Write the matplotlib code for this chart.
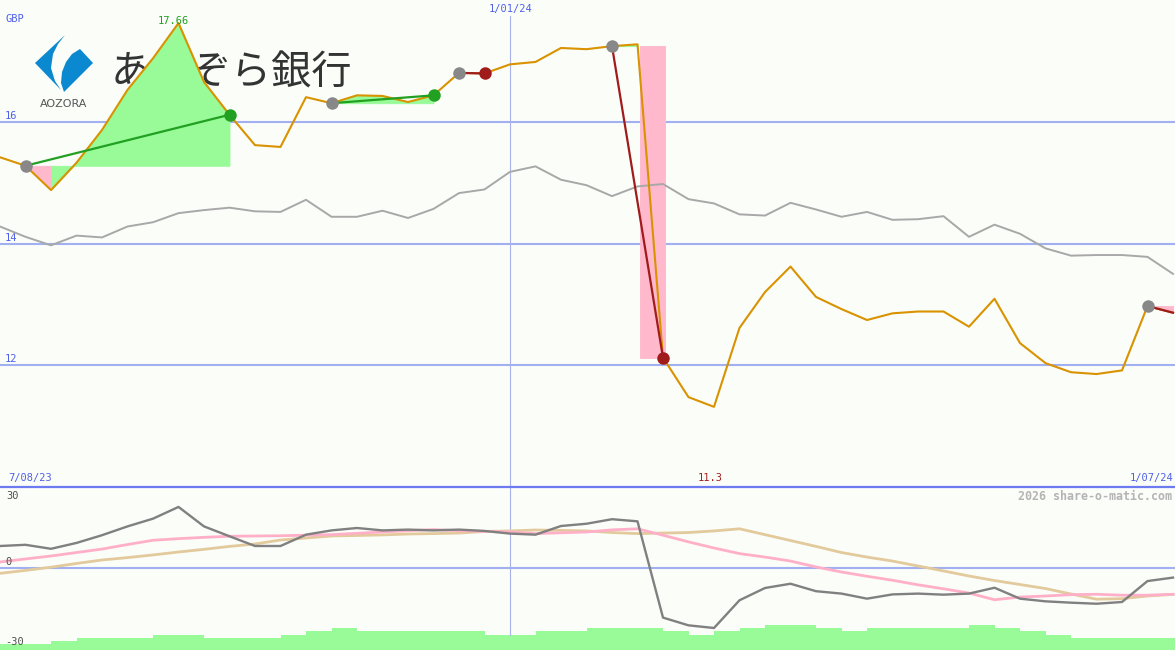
import numpy as np
import matplotlib
matplotlib.use('Agg')
import matplotlib.pyplot as plt
import matplotlib.transforms as mtransforms
from matplotlib.patches import Polygon
from matplotlib.lines import Line2D

# weekly closing price, GBP (orange)
price = [15.42, 15.28, 14.88, 15.33, 15.87, 16.53, 17.05, 17.63, 16.66, 16.12,
         15.62, 15.59, 16.41, 16.31, 16.44, 16.43, 16.33, 16.44, 16.81, 16.80,
         16.95, 16.99, 17.22, 17.20, 17.25, 17.28, 12.12, 11.47, 11.31, 12.61,
         13.20, 13.62, 13.12, 12.92, 12.74, 12.85, 12.88, 12.88, 12.63, 13.09,
         12.36, 12.03, 11.88, 11.85, 11.91, 12.97, 12.86]
# comparison line (grey)
compare = [14.28, 14.11, 13.97, 14.13, 14.10, 14.28, 14.35, 14.50, 14.55, 14.59,
           14.53, 14.52, 14.72, 14.44, 14.44, 14.54, 14.42, 14.57, 14.83, 14.89,
           15.18, 15.27, 15.05, 14.96, 14.78, 14.94, 14.98, 14.73, 14.66, 14.48,
           14.46, 14.67, 14.56, 14.44, 14.52, 14.39, 14.40, 14.45, 14.11, 14.31,
           14.16, 13.92, 13.80, 13.81, 13.81, 13.78, 13.50]
# lower panel oscillators
momentum = [8.25, 8.7, 7.2, 9.4, 12.3, 15.6, 18.5, 22.9, 15.6, 11.9,
            8.25, 8.25, 12.5, 14.1, 15.0, 14.1, 14.4, 14.1, 14.4, 13.9,
            12.9, 12.5, 15.75, 16.6, 18.3, 17.5, -18.6, -21.5, -22.5, -12.1,
            -7.5, -5.9, -8.7, -9.6, -11.5, -9.9, -9.6, -10.0, -9.6, -7.4,
            -11.5, -12.5, -13.0, -13.4, -12.75, -4.9, -3.6]
avg_fast = [2.25, 3.4, 4.5, 5.8, 7.1, 8.8, 10.4, 11.0, 11.5, 11.9,
            12.0, 12.1, 12.3, 12.5, 13.0, 13.5, 14.0, 14.4, 14.0, 13.7,
            13.5, 12.9, 13.2, 13.5, 14.3, 14.7, 12.3, 9.8, 7.5, 5.4,
            4.1, 2.6, 0.4, -1.5, -3.1, -4.6, -6.3, -7.8, -9.4, -11.9,
            -10.9, -10.5, -10.0, -9.85, -10.2, -10.2, -9.85]
avg_slow = [-2.0, -0.9, 0.3, 1.7, 3.0, 3.9, 4.9, 6.0, 7.0, 8.1,
            9.0, 10.5, 11.25, 12.0, 12.2, 12.4, 12.75, 12.9, 13.1, 13.7,
            13.9, 14.25, 14.1, 13.9, 13.3, 12.9, 13.1, 13.3, 13.9, 14.7,
            12.5, 10.3, 8.1, 5.8, 4.1, 2.6, 0.75, -1.1, -3.0, -4.7,
            -6.2, -7.7, -9.75, -11.7, -11.5, -10.5, -9.9]
volume = [63, 63, 90, 120, 120, 120, 153, 153, 120, 120,
          120, 153, 190, 220, 190, 190, 190, 190, 190, 153,
          153, 190, 190, 220, 220, 220, 190, 153, 190, 220,
          253, 253, 220, 190, 220, 220, 220, 220, 253, 220,
          190, 153, 120, 120, 120, 120, 120]

# trades: entry week, exit week, closed?
trade_in = [1, 13, 18, 24, 45]
trade_out = [9, 17, 19, 26, 46]
trade_closed = [True, True, True, True, False]

date_pos = [0, 20, 46]
date_text = ['7/08/23', '1/01/24', '1/07/24']
price_ticks = [16, 14, 12]
osc_ticks = [30, 0, -30]
high_week, high_text = 7, '17.66'
low_week, low_text = 28, '11.3'

BG = '#fbfdf9'
BLUE = '#a0b0f0'
GREEN = '#98fb98'
PINK = '#ffb8cc'
MONO = 'DejaVu Sans Mono'

weeks = np.arange(len(price))
W, H = 1175, 650
fig = plt.figure(figsize=(W / 100, H / 100), dpi=100, facecolor=BG)
ax1 = fig.add_axes([0, 163 / H, 1, 487 / H])
ax2 = fig.add_axes([0, 0, 1, 163 / H])
for ax in (ax1, ax2):
    ax.set_xlim(0, W / 25.5)
    ax.set_axis_off()
    ax.patch.set_visible(False)
ax1.set_ylim(9.99, 18.01)
ax2.set_ylim(-30.75, 30.375)

# pixel coordinates for the logo
px = mtransforms.Affine2D().scale(1 / W, -1 / H).translate(0, 1) + fig.transFigure

# logo
left_piece = [(65, 35), (35, 63), (61, 90), (55, 81), (51, 68), (53, 54), (58, 44)]
right_piece = [(80, 49), (93, 63), (64, 92), (61, 83), (62, 72), (66, 62), (72, 54)]
for pts in (left_piece, right_piece):
    ax1.add_patch(Polygon(pts, closed=True, transform=px, facecolor='#0a88d0',
                          edgecolor='none', zorder=1.5))
ax1.text(64, 104, 'AOZORA', transform=px, ha='center', va='center',
         fontsize=8, color='#555555', family='DejaVu Sans', zorder=1.5)
ax1.text(111, 73, 'あおぞら銀行', transform=px, ha='left', va='center',
         fontsize=29, color='#333333', family=['Noto Sans CJK JP', 'DejaVu Sans'],
         zorder=1.5)

# grid
for v in price_ticks:
    ax1.axhline(v, color=BLUE, lw=1.5, zorder=1)
    ax1.annotate(str(v), xy=(0, v), xycoords=('axes fraction', 'data'),
                 xytext=(5, 6), textcoords='offset pixels', ha='left', va='center',
                 fontsize=7.5, color='#5060e8', family=MONO)
ax2.axhline(0, color=BLUE, lw=1.5, zorder=1)
ax1.axvline(date_pos[1], ymin=0, ymax=(487 - 16) / 487, color='#aab2ea', lw=0.8, zorder=1)
ax2.axvline(date_pos[1], ymin=(650 - 635) / 163, ymax=1, color='#aab2ea', lw=0.8, zorder=1)

# trade fills
for e, x, closed in zip(trade_in, trade_out, trade_closed):
    entry = price[e]
    for i in range(e, x):
        col = GREEN if price[i + 1] >= entry else PINK
        if closed and i + 1 == x and price[x] < entry:
            ax1.fill_between([i + 0.1, i + 1.08], [price[x]] * 2, entry,
                             facecolor=col, edgecolor=col, lw=0.6, zorder=2)
        else:
            ax1.fill_between([i, i + 1], [price[i], price[i + 1]], entry,
                             facecolor=col, edgecolor=col, lw=0.6, zorder=2)

ax1.plot(weeks, compare, color='#a8a8a8', lw=1.4, zorder=3)
ax1.plot(weeks, price, color='#d99200', lw=1.5, zorder=4)

for e, x, closed in zip(trade_in, trade_out, trade_closed):
    win = price[x] > price[e]
    ax1.plot([e, x], [price[e], price[x]], color='#22a022' if win else '#a01c1c',
             lw=1.6, zorder=5)
    ax1.plot(e, price[e], 'o', ms=9, color='#888888', mec='none', zorder=6)
    if closed:
        ax1.plot(x, price[x], 'o', ms=9, color='#22a022' if win else '#a01c1c',
                 mec='none', zorder=6)

# labels top panel
ax1.annotate('GBP', xy=(0, 1), xycoords='axes fraction', xytext=(5, -19),
             textcoords='offset pixels', ha='left', va='center', fontsize=7.5,
             color='#5060e8', family=MONO)
ax1.annotate(date_text[1], xy=(date_pos[1], 1), xycoords=('data', 'axes fraction'),
             xytext=(1, -9), textcoords='offset pixels', ha='center', va='center',
             fontsize=7.5, color='#5060e8', family=MONO)
ax1.annotate(date_text[0], xy=(date_pos[0], 0), xycoords=('data', 'axes fraction'),
             xytext=(8, 9), textcoords='offset pixels', ha='left', va='center',
             fontsize=7.5, color='#5060e8', family=MONO)
ax1.annotate(date_text[2], xy=(date_pos[2], 0), xycoords=('data', 'axes fraction'),
             xytext=(0, 9), textcoords='offset pixels', ha='right', va='center',
             fontsize=7.5, color='#5060e8', family=MONO)
ax1.annotate(high_text, xy=(high_week, 1), xycoords=('data', 'axes fraction'),
             xytext=(-5, -21), textcoords='offset pixels', ha='center', va='center',
             fontsize=7.5, color='#20a020', family=MONO, zorder=7)
ax1.annotate(low_text, xy=(low_week, 0), xycoords=('data', 'axes fraction'),
             xytext=(-4, 9), textcoords='offset pixels', ha='center', va='center',
             fontsize=7.5, color='#a02020', family=MONO)

# lower panel
axv = ax2.twinx()
axv.set_axis_off()
axv.set_ylim(0, 1630)
axv.bar(weeks, volume, width=1.0, align='edge', color=GREEN, lw=0)
ax2.set_zorder(axv.get_zorder() + 1)

ax2.plot(weeks, avg_slow, color='#e2ca9c', lw=2, zorder=3)
ax2.plot(weeks, avg_fast, color='#ffb0c8', lw=2, zorder=3)
ax2.plot(weeks, momentum, color='#808080', lw=1.7, zorder=4)

ax2.annotate(str(osc_ticks[0]), xy=(0, 1), xycoords='axes fraction', xytext=(6, -9),
             textcoords='offset pixels', ha='left', va='center', fontsize=7.5,
             color='#505050', family=MONO)
for v in osc_ticks[1:]:
    ax2.annotate(str(v), xy=(0, v), xycoords=('axes fraction', 'data'),
                 xytext=(5, 6), textcoords='offset pixels', ha='left', va='center',
                 fontsize=7.5, color='#505050', family=MONO)
ax2.annotate('2026 share-o-matic.com', xy=(1, 1), xycoords='axes fraction',
             xytext=(-3, -9), textcoords='offset pixels', ha='right', va='center',
             fontsize=8.4, fontweight='bold', color='#b4b4b4', family=MONO)

fig.add_artist(Line2D([0, 1], [163 / H, 163 / H], transform=fig.transFigure,
                      color='#6c7cf0', lw=1.6))

fig.savefig('out.png', dpi=100, facecolor=BG)
